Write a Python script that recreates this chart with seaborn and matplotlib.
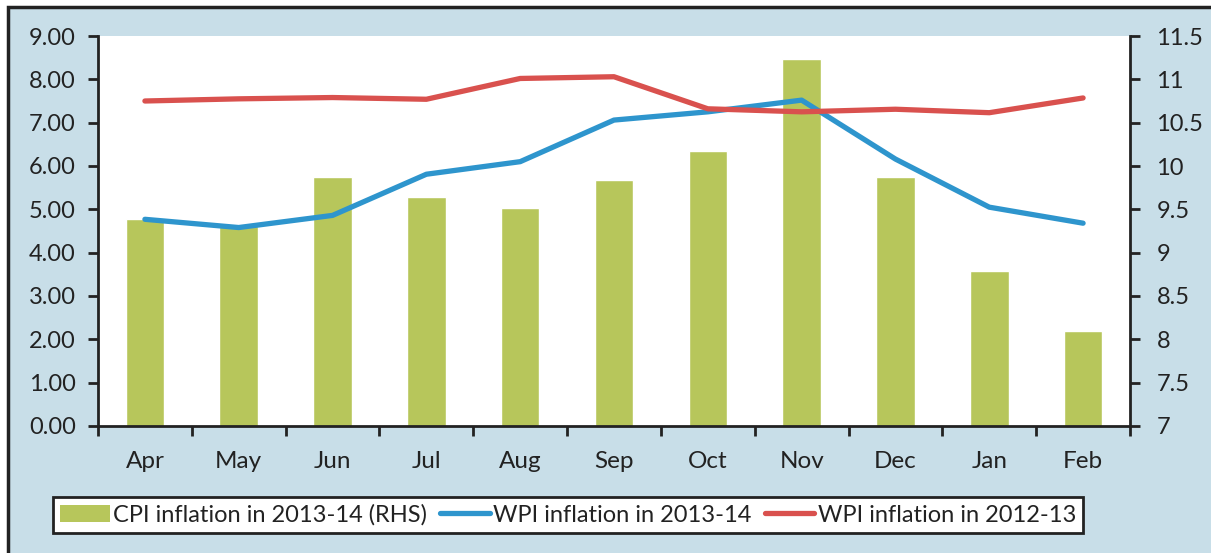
import matplotlib
matplotlib.use("Agg")
import matplotlib.pyplot as plt
from matplotlib.patches import Rectangle, Patch
from matplotlib.lines import Line2D
import seaborn as sns
import pandas as pd

months = ["Apr", "May", "Jun", "Jul", "Aug", "Sep", "Oct", "Nov", "Dec", "Jan", "Feb"]
cpi_1314 = [9.39, 9.31, 9.87, 9.64, 9.52, 9.84, 10.17, 11.24, 9.87, 8.79, 8.10]
wpi_1314 = [4.77, 4.58, 4.86, 5.81, 6.10, 7.06, 7.25, 7.52, 6.16, 5.05, 4.68]
wpi_1213 = [7.50, 7.55, 7.58, 7.54, 8.02, 8.06, 7.32, 7.25, 7.31, 7.23, 7.57]

left_ticks = [0, 1, 2, 3, 4, 5, 6, 7, 8, 9]
right_ticks = [7, 7.5, 8, 8.5, 9, 9.5, 10, 10.5, 11, 11.5]

GREEN = "#b7c65b"
BLUE = "#2e95cd"
RED = "#d9514e"
BG = "#c8dee8"
INK = "#222222"

sns.set_theme(style="white")
plt.rcParams["font.family"] = ["Lato", "DejaVu Sans"]

df = pd.DataFrame({"month": months, "cpi": cpi_1314,
                   "wpi_1314": wpi_1314, "wpi_1213": wpi_1213})

fig = plt.figure(figsize=(12.11, 5.53), dpi=100, facecolor="white")
# light blue panel with the black frame on top/left
fig.patches.append(Rectangle((8 / 1211, -0.05), 1.1, 1 - 7 / 553 + 0.05,
                             transform=fig.transFigure, facecolor=BG,
                             edgecolor=INK, linewidth=2.5, zorder=-5))

ax2 = fig.add_axes([98 / 1211, 1 - 426 / 553, (1130 - 98) / 1211, (426 - 36) / 553])
ax = ax2.twinx()

# bars on the right axis (RHS)
ax2.set_facecolor("white")
sns.barplot(data=df, x="month", y="cpi", color=GREEN, width=0.41,
            saturation=1, ax=ax2)
ax2.set_ylim(7, 11.5)
ax2.yaxis.tick_right()
ax2.set_yticks(right_ticks)
ax2.set_yticklabels([f"{t:g}" for t in right_ticks])

# lines on the left axis
sns.lineplot(data=df, x="month", y="wpi_1314", color=BLUE, linewidth=3.8,
             sort=False, ax=ax, solid_capstyle="round")
sns.lineplot(data=df, x="month", y="wpi_1213", color=RED, linewidth=3.8,
             sort=False, ax=ax, solid_capstyle="round")
ax.yaxis.tick_left()
ax.set_ylim(0, 9)
ax.set_yticks(left_ticks)
ax.set_yticklabels([f"{t:.2f}" for t in left_ticks])
ax2.set_xlim(-0.5, len(months) - 0.5)

for a in (ax, ax2):
    a.set_xlabel("")
    a.set_ylabel("")
    for s in a.spines.values():
        s.set_visible(False)

for name in ("left", "bottom", "right"):
    s = ax.spines[name]
    s.set_visible(True)
    s.set_color(INK)
    s.set_linewidth(2)

# month labels centered, ticks on category boundaries (host axis)
ax2.set_xticks(range(len(months)))
ax2.set_xticklabels(months)
ax2.set_xticks([i - 0.5 for i in range(len(months) + 1)], minor=True)
ax2.tick_params(axis="x", which="major", bottom=False, labelbottom=True,
                length=0, pad=18, labelsize=17.5, colors=INK)
ax2.tick_params(axis="x", which="minor", bottom=True, length=7, width=2,
                direction="out", color=INK)
ax.tick_params(axis="y", length=7, width=2, direction="out", labelsize=17,
               colors=INK, left=True, pad=9)
ax2.tick_params(axis="y", length=7, width=2, direction="out", labelsize=17,
                colors=INK, right=True, pad=12)

handles = [Patch(facecolor=GREEN, edgecolor="none"),
           Line2D([], [], color=BLUE, linewidth=3.8, solid_capstyle="round"),
           Line2D([], [], color=RED, linewidth=3.8, solid_capstyle="round")]
labels = ["CPI inflation in 2013-14 (RHS)", "WPI inflation in 2013-14",
          "WPI inflation in 2012-13"]
leg = fig.legend(handles, labels, ncol=3, loc="center",
                 bbox_to_anchor=(568 / 1211, 1 - 515 / 553),
                 fontsize=17, frameon=True, fancybox=False, edgecolor=INK,
                 handlelength=2.1, handletextpad=0.15, columnspacing=0.55,
                 borderpad=0.3, borderaxespad=0)
leg.get_frame().set_linewidth(2)
leg.get_frame().set_facecolor("white")
leg.get_frame().set_alpha(1)
for t in leg.get_texts():
    t.set_color(INK)

fig.savefig("out.png", dpi=100, facecolor=fig.get_facecolor())
